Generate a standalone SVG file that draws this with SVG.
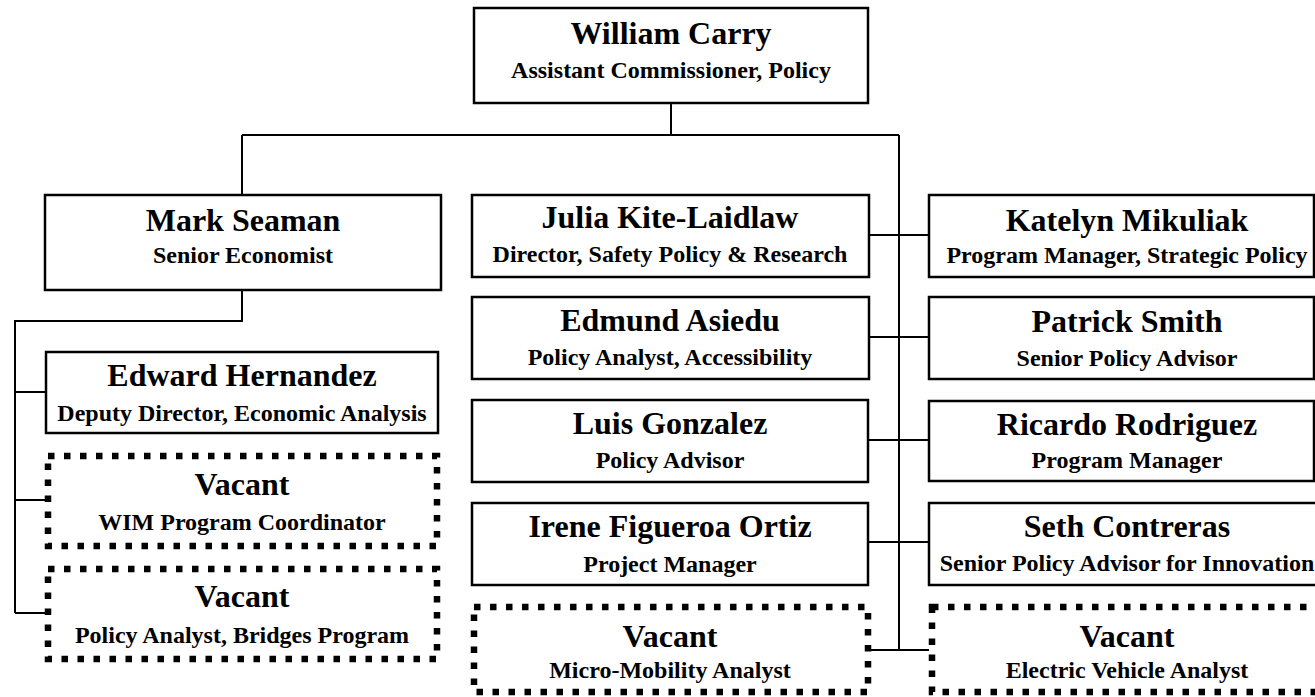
<svg xmlns="http://www.w3.org/2000/svg" width="1315" height="697" viewBox="0 0 1315 697">
<style>
  .box{fill:#fff;stroke:#000;stroke-width:2.5}
  .vac{fill:#fff;stroke:#000;stroke-width:6.5;stroke-dasharray:6.5 9.5}
  .conn{fill:none;stroke:#000;stroke-width:2}
  text{font-family:"Liberation Serif","Times New Roman",serif;font-weight:bold;fill:#000;text-anchor:middle}
  .n{font-size:32px}
  .t{font-size:24px}
</style>
<rect width="1315" height="697" fill="#fff"/>
<g id="connectors">
  <path class="conn" d="M671 103V135M242 135H899M242 135V195M899 135V650"/>
  <path class="conn" d="M242 290V321H15V613M15 392H46M15 500H48M15 613H48"/>
  <path class="conn" d="M869 235H929M869 337H929M868 440H929M868 542H929M868 650H929"/>
</g>
<g id="william-carry">
  <rect class="box" x="474" y="8" width="394" height="95"/>
  <text class="n" x="671" y="44">William Carry</text>
  <text class="t" x="671" y="78">Assistant Commissioner, Policy</text>
</g>
<g id="mark-seaman">
  <rect class="box" x="45" y="195" width="396" height="95"/>
  <text class="n" x="243" y="231">Mark Seaman</text>
  <text class="t" x="243" y="263">Senior Economist</text>
</g>
<g id="edward-hernandez">
  <rect class="box" x="46" y="352" width="392" height="81"/>
  <text class="n" x="242" y="386">Edward Hernandez</text>
  <text class="t" x="242" y="421">Deputy Director, Economic Analysis</text>
</g>
<g id="vacant-wim">
  <rect class="vac" x="48" y="456" width="389" height="90"/>
  <text class="n" x="242" y="495">Vacant</text>
  <text class="t" x="242" y="530">WIM Program Coordinator</text>
</g>
<g id="vacant-bridges">
  <rect class="vac" x="48" y="569" width="389" height="90"/>
  <text class="n" x="242" y="607">Vacant</text>
  <text class="t" x="242" y="643">Policy Analyst, Bridges Program</text>
</g>
<g id="julia-kite-laidlaw">
  <rect class="box" x="472" y="195" width="397" height="82"/>
  <text class="n" x="670" y="228">Julia Kite-Laidlaw</text>
  <text class="t" x="670" y="262">Director, Safety Policy &amp; Research</text>
</g>
<g id="edmund-asiedu">
  <rect class="box" x="472" y="297" width="397" height="82"/>
  <text class="n" x="670" y="331">Edmund Asiedu</text>
  <text class="t" x="670" y="365">Policy Analyst, Accessibility</text>
</g>
<g id="luis-gonzalez">
  <rect class="box" x="472" y="400" width="396" height="82"/>
  <text class="n" x="670" y="434">Luis Gonzalez</text>
  <text class="t" x="670" y="468">Policy Advisor</text>
</g>
<g id="irene-figueroa-ortiz">
  <rect class="box" x="472" y="503" width="396" height="82"/>
  <text class="n" x="670" y="537">Irene Figueroa Ortiz</text>
  <text class="t" x="670" y="572">Project Manager</text>
</g>
<g id="vacant-micro-mobility">
  <rect class="vac" x="474" y="607" width="394" height="85"/>
  <text class="n" x="670" y="647">Vacant</text>
  <text class="t" x="670" y="678">Micro-Mobility Analyst</text>
</g>
<g id="katelyn-mikuliak">
  <rect class="box" x="929" y="195" width="385" height="82"/>
  <text class="n" x="1127" y="231">Katelyn Mikuliak</text>
  <text class="t" x="1127" y="263">Program Manager, Strategic Policy</text>
</g>
<g id="patrick-smith">
  <rect class="box" x="929" y="297" width="385" height="82"/>
  <text class="n" x="1127" y="332">Patrick Smith</text>
  <text class="t" x="1127" y="366">Senior Policy Advisor</text>
</g>
<g id="ricardo-rodriguez">
  <rect class="box" x="929" y="401" width="385" height="80"/>
  <text class="n" x="1127" y="435">Ricardo Rodriguez</text>
  <text class="t" x="1127" y="468">Program Manager</text>
</g>
<g id="seth-contreras">
  <rect class="box" x="929" y="503" width="390" height="82"/>
  <text class="n" x="1127" y="537">Seth Contreras</text>
  <text class="t" x="1127" y="571">Senior Policy Advisor for Innovation</text>
</g>
<g id="vacant-electric-vehicle">
  <rect class="vac" x="932" y="607" width="390" height="85"/>
  <text class="n" x="1127" y="647">Vacant</text>
  <text class="t" x="1127" y="678">Electric Vehicle Analyst</text>
</g>
</svg>
